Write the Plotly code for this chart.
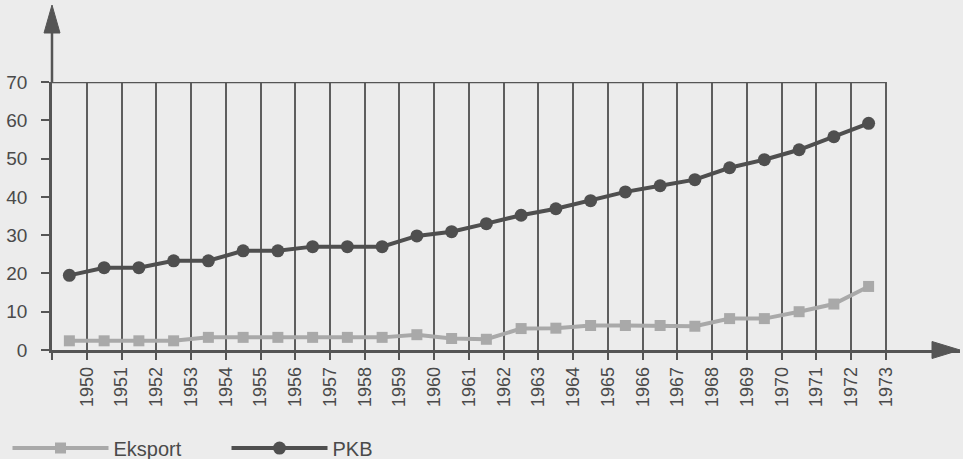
import plotly.graph_objects as go

years = list(range(1950, 1974))
eksport = [2.4, 2.4, 2.4, 2.4, 3.3, 3.3, 3.3, 3.3, 3.3, 3.3, 4.0, 3.0,
           2.8, 5.6, 5.7, 6.4, 6.4, 6.4, 6.2, 8.2, 8.2, 10.0, 12.0, 16.6]
pkb = [19.5, 21.5, 21.5, 23.3, 23.3, 25.9, 25.9, 27.0, 27.0, 27.0, 29.8, 30.9,
       33.0, 35.2, 36.9, 39.0, 41.3, 42.9, 44.5, 47.6, 49.7, 52.3, 55.7, 59.2]
y_ticks = [0, 10, 20, 30, 40, 50, 60, 70]

BG = "#ececec"
DARK = "#555555"
EKS_C = "#a9a9a9"
PKB_C = "#4f4f4f"
FONT = "Liberation Sans, Arial, sans-serif"

fig = go.Figure()
fig.add_trace(go.Scatter(
    x=years, y=eksport, name="Eksport", mode="lines+markers",
    line=dict(color=EKS_C, width=4),
    marker=dict(symbol="square", size=11, color=EKS_C),
))
fig.add_trace(go.Scatter(
    x=years, y=pkb, name="PKB", mode="lines+markers",
    line=dict(color=PKB_C, width=4),
    marker=dict(symbol="circle", size=13, color=PKB_C),
))

tickvals = [years[0] - 0.5] + [y + 0.5 for y in years]
ticktext = [""] + [str(y) for y in years]

fig.update_layout(
    width=963, height=459,
    margin=dict(l=52, r=3, t=82, b=109, autoexpand=False),
    paper_bgcolor=BG, plot_bgcolor=BG,
    font=dict(family=FONT, color="#4a4a4a"),
    showlegend=True,
    legend=dict(
        orientation="h", x=-0.049, xanchor="left", y=-0.366, yanchor="middle",
        itemwidth=96, entrywidth=108, entrywidthmode="pixels",
        font=dict(size=20, color="#4a4a4a"), bgcolor="rgba(0,0,0,0)",
        traceorder="normal",
    ),
    xaxis=dict(
        range=[years[0] - 0.5, years[-1] + 2.63],
        tickmode="array", tickvals=tickvals, ticktext=ticktext,
        tickangle=-90, tickfont=dict(size=18, color="#4a4a4a"),
        ticks="outside", ticklen=7, tickwidth=2, tickcolor=DARK,
        showgrid=True, gridcolor="#5e5e5e", gridwidth=1.6,
        showline=True, linecolor=DARK, linewidth=2.5,
        zeroline=False, fixedrange=True, automargin=False,
    ),
    yaxis=dict(
        range=[0, 70], tickmode="array", tickvals=y_ticks,
        tickfont=dict(size=19, color="#4a4a4a"),
        ticks="outside", ticklen=8, tickwidth=2, tickcolor=DARK,
        ticklabelstandoff=10,
        showgrid=False, showline=True, linecolor=DARK, linewidth=2.5,
        zeroline=False, fixedrange=True, automargin=False,
    ),
)

# top border of the grid at the top of the value axis
fig.add_shape(type="line", xref="x", yref="y",
              x0=years[0] - 0.5, x1=years[-1] + 0.5, y0=y_ticks[-1], y1=y_ticks[-1],
              line=dict(color=DARK, width=2.5))
# y axis extension above the grid with arrow
fig.add_shape(type="line", xref="paper", yref="paper", x0=0, x1=0, y0=1, y1=1.19,
              line=dict(color=DARK, width=2.5))
fig.add_shape(type="path", xref="paper", yref="paper",
              xsizemode="pixel", ysizemode="pixel", xanchor=0, yanchor=1,
              path="M -8,49 L 0,77 L 8,49 Z",
              fillcolor=DARK, line=dict(color=DARK, width=1))
# x axis arrow
fig.add_shape(type="path", xref="paper", yref="paper",
              xsizemode="pixel", ysizemode="pixel", xanchor=1, yanchor=0,
              path="M -28,-8.5 L 0,0 L -28,8.5 Z",
              fillcolor=DARK, line=dict(color=DARK, width=1))

fig.write_html(
    "out.html",
    config={"displayModeBar": False},
    post_script="document.body.style.margin='0';document.body.style.background='#ececec';",
)
